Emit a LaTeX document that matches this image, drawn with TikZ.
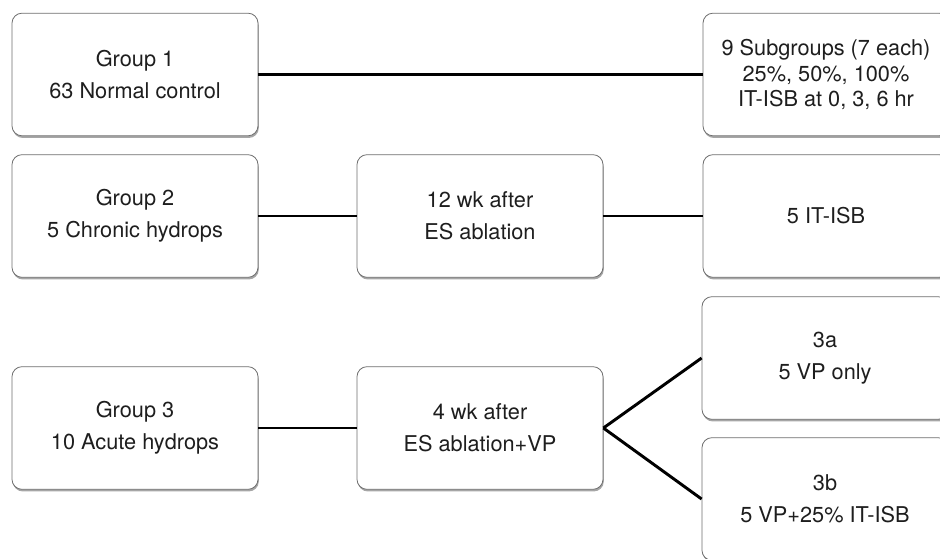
\documentclass[tikz,border=0pt]{standalone}
\usepackage{fontspec}
\setmainfont{TeX Gyre Heros}
\usepackage{xcolor}
\usepackage{tikz}
\usetikzlibrary{shadows}

\tikzset{
  grpbox/.style={draw={rgb,255:red,110;green,110;blue,110}, line width=0.6pt, fill=white, rounded corners=7.5pt,
    minimum width=184.5pt, minimum height=92pt, align=center, inner sep=0pt,
    text={rgb,255:red,30;green,30;blue,30}, font=\fontsize{16.3}{24}\selectfont,
    drop shadow={shadow xshift=0.6pt, shadow yshift=-1.6pt, fill=black, opacity=0.35}},
  link/.style={line width=2.2pt, color=black}
}

\begin{document}
\begin{tikzpicture}[x=0.75pt,y=0.75pt,yscale=-1,xscale=1]
    \useasboundingbox (0,0) rectangle (940,558);
    \clip (0,0) rectangle (940,558);

    \node (g1) at (135,74.5) [grpbox] {Group 1\\63 Normal control};
    \node (sub) at (826,74.5) [grpbox] {9 Subgroups (7 each)\\[-5pt]25\%, 50\%, 100\%\\[-5pt]IT-ISB at 0, 3, 6 hr};

    \node (g2) at (135,216) [grpbox] {Group 2\\5 Chronic hydrops};
    \node (wk12) at (480,216) [grpbox] {12 wk after\\ES ablation};
    \node (isb) at (826,216) [grpbox] {5 IT-ISB};

    \node (g3) at (135,428) [grpbox] {Group 3\\10 Acute hydrops};
    \node (wk4) at (480,428) [grpbox] {4 wk after\\ES ablation+VP};
    \node (g3a) at (825,358) [grpbox] {3a\\5 VP only};
    \node (g3b) at (825,499) [grpbox] {3b\\5 VP+25\% IT-ISB};

    \draw [link] (g1) -- (sub);
    \draw [link] (g2) -- (wk12);
    \draw [link] (wk12) -- (isb);
    \draw [link] (g3) -- (wk4);
    \draw [link] (wk4.east) -- (g3a.west);
    \draw [link] (wk4.east) -- (g3b.west);
\end{tikzpicture}
\end{document}
